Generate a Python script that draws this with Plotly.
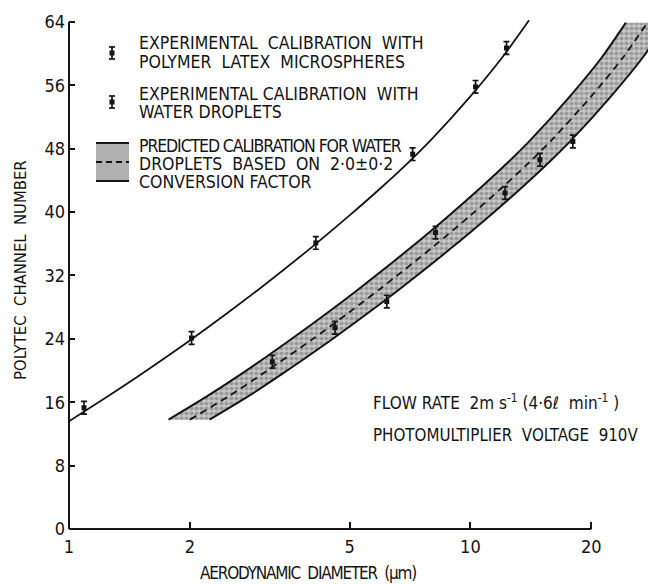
import math
import plotly.graph_objects as go

# ---------------- data ----------------
latex_x = [1.09, 2.02, 4.12, 7.18, 10.3, 12.3]
latex_y = [15.3, 24.1, 36.1, 47.3, 55.8, 60.7]
latex_err = [0.8, 0.8, 0.8, 0.8, 0.8, 0.8]

water_x = [3.21, 4.6, 6.19, 8.19, 12.2, 14.9, 18.0]
water_y = [21.1, 25.4, 28.7, 37.4, 42.4, 46.6, 48.9]
water_err = [0.8, 0.8, 0.8, 0.8, 0.8, 0.8, 0.8]

fit_x = [1.0, 1.25, 1.5, 2.0, 2.5, 3.0, 4.0, 5.0, 6.0, 7.0, 8.0, 10.0, 12.0, 14.0]
fit_y = [13.6, 16.76, 19.41, 23.79, 27.38, 30.42, 35.45, 39.57, 43.09, 46.24, 49.17, 54.6, 59.5, 64.2]

band_y = [13.8, 16.76, 19.41, 23.79, 27.38, 30.42, 35.45, 39.57, 43.09, 46.24, 49.17, 54.6, 59.5, 63.9]
band_upper_x = [1.77, 2.21, 2.66, 3.54, 4.43, 5.31, 7.08, 8.85, 10.62, 12.39, 14.16, 17.7, 21.24, 24.4]
band_mid_x = [2.00, 2.50, 3.00, 4.00, 5.00, 6.00, 8.00, 10.0, 12.0, 14.0, 16.0, 20.0, 24.0, 27.6]
band_lower_x = [2.24, 2.80, 3.36, 4.48, 5.60, 6.72, 8.96, 11.2, 13.44, 15.68, 17.92, 22.4, 26.88, 30.8]

y_ticks = [0, 8, 16, 24, 32, 40, 48, 56, 64]
x_ticks = [1, 2, 5, 10, 20]
x_ticktext = ["1", "2", "5", "10", "20"]

# ---------------- layout geometry ----------------
W, H = 650, 584
ML, MR, MT, MB = 69, 2, 6, 55
PW, PH = W - ML - MR, H - MT - MB
X_MAX = 27.7
Y_MAX = 66
FONT = "DejaVu Sans Condensed, Liberation Sans Narrow, DejaVu Sans, sans-serif"
INK = "#141414"


def px_x(px):
    return (px - ML) / PW


def px_y(py):
    return (MT + PH - py) / PH


def spaced(txt, ls):
    return '<span style="letter-spacing:%spx">%s</span>' % (ls, txt) if ls else txt


fig = go.Figure()

# band fill
fig.add_trace(go.Scatter(
    x=band_upper_x + band_lower_x[::-1],
    y=band_y + band_y[::-1],
    mode="lines", fill="toself",
    line=dict(width=0, color="rgba(0,0,0,0)"),
    fillcolor="#b4b4b4",
    fillpattern=dict(shape=".", fgcolor="#6e6e6e", bgcolor="#c8c8c8", size=5, solidity=0.55),
    hoverinfo="skip", showlegend=False))

for bx, dash in ((band_upper_x, "solid"), (band_lower_x, "solid"), (band_mid_x, "7px,5px")):
    fig.add_trace(go.Scatter(
        x=bx, y=band_y, mode="lines",
        line=dict(color=INK, width=2 if dash == "solid" else 1.8, dash=dash, shape="spline", smoothing=0.8),
        showlegend=False, hoverinfo="skip"))

# latex calibration curve
fig.add_trace(go.Scatter(
    x=fit_x, y=fit_y, mode="lines",
    line=dict(color=INK, width=1.8, shape="spline", smoothing=0.8),
    showlegend=False, hoverinfo="skip"))

# data points
for xs, ys, es in ((latex_x, latex_y, latex_err), (water_x, water_y, water_err)):
    fig.add_trace(go.Scatter(
        x=xs, y=ys, mode="markers",
        marker=dict(symbol="square", size=5, color=INK),
        error_y=dict(type="data", array=es, visible=True, color=INK, thickness=1.7, width=3),
        showlegend=False, hoverinfo="skip"))

# ---------------- axes lines (as in the print: y to 64, x to 20) ----------------
x20 = math.log10(20) / math.log10(X_MAX)
fig.add_shape(type="line", xref="paper", yref="paper", x0=0, x1=x20, y0=0, y1=0,
              line=dict(color=INK, width=2))
fig.add_shape(type="line", xref="paper", yref="paper", x0=0, x1=0, y0=0, y1=64 / Y_MAX,
              line=dict(color=INK, width=2))

# ---------------- legend drawn by hand ----------------
def err_symbol(cx, cy):
    fig.add_shape(type="line", xref="paper", yref="paper",
                  x0=px_x(cx), x1=px_x(cx), y0=px_y(cy - 6), y1=px_y(cy + 6),
                  line=dict(color=INK, width=1.7))
    for dy in (-6, 6):
        fig.add_shape(type="line", xref="paper", yref="paper",
                      x0=px_x(cx - 3), x1=px_x(cx + 3), y0=px_y(cy + dy), y1=px_y(cy + dy),
                      line=dict(color=INK, width=1.7))
    fig.add_shape(type="rect", xref="paper", yref="paper",
                  x0=px_x(cx - 2.5), x1=px_x(cx + 2.5), y0=px_y(cy - 2.5), y1=px_y(cy + 2.5),
                  fillcolor=INK, line=dict(width=0))


err_symbol(112, 53)
err_symbol(112, 102)

fig.add_shape(type="rect", xref="paper", yref="paper",
              x0=px_x(96), x1=px_x(129), y0=px_y(143), y1=px_y(181),
              fillcolor="#b0b0b0", line=dict(width=0))
for yy, dash in ((143, "solid"), (162, "6px,4px"), (181, "solid")):
    fig.add_shape(type="line", xref="paper", yref="paper",
                  x0=px_x(96), x1=px_x(129), y0=px_y(yy), y1=px_y(yy),
                  line=dict(color=INK, width=2, dash=dash))

# (y pixel, text, letter spacing in px)
legend_lines = [
    (43, "EXPERIMENTAL  CALIBRATION  WITH", 0),
    (62, "POLYMER  LATEX  MICROSPHERES", 0),
    (94, "EXPERIMENTAL CALIBRATION  WITH", 0),
    (112, "WATER DROPLETS", 0),
    (146, "PREDICTED CALIBRATION FOR WATER", -1.1),
    (164, "DROPLETS  BASED  ON  2·0±0·2", 0),
    (182, "CONVERSION FACTOR", 0),
]
for py, txt, ls in legend_lines:
    fig.add_annotation(xref="paper", yref="paper", x=px_x(137), y=px_y(py),
                       xanchor="left", yanchor="middle", showarrow=False, text=spaced(txt, ls),
                       font=dict(family=FONT, size=17.5, color=INK))

fig.add_annotation(xref="paper", yref="paper", x=px_x(371), y=px_y(402),
                   xanchor="left", yanchor="middle", showarrow=False,
                   text="FLOW RATE  2m s<sup>-1</sup> (4·6ℓ  min<sup>-1</sup> )",
                   font=dict(family=FONT, size=17, color=INK))
fig.add_annotation(xref="paper", yref="paper", x=px_x(371), y=px_y(435),
                   xanchor="left", yanchor="middle", showarrow=False,
                   text="PHOTOMULTIPLIER  VOLTAGE  910V",
                   font=dict(family=FONT, size=16.8, color=INK))

# axis titles
fig.add_annotation(xref="paper", yref="paper", x=px_x(308), y=px_y(573),
                   xanchor="center", yanchor="middle", showarrow=False,
                   text=spaced("AERODYNAMIC  DIAMETER  (μm)", -1.2),
                   font=dict(family=FONT, size=17, color=INK))
fig.add_annotation(xref="paper", yref="paper", x=px_x(20), y=px_y(270),
                   xanchor="center", yanchor="middle", showarrow=False, textangle=-90,
                   text="POLYTEC  CHANNEL  NUMBER",
                   font=dict(family=FONT, size=16.5, color=INK))

fig.update_layout(
    width=W, height=H,
    margin=dict(l=ML, r=MR, t=MT, b=MB),
    paper_bgcolor="white", plot_bgcolor="white",
    showlegend=False,
    xaxis=dict(type="log", range=[0, math.log10(X_MAX)], tickvals=x_ticks, ticktext=x_ticktext,
               ticks="inside", ticklen=7, tickwidth=1.6, tickcolor=INK,
               showgrid=False, zeroline=False, showline=False,
               tickfont=dict(family=FONT, size=18, color=INK), ticklabelstandoff=5),
    yaxis=dict(range=[0, Y_MAX], tickvals=y_ticks,
               ticks="inside", ticklen=6, tickwidth=1.6, tickcolor=INK,
               showgrid=False, zeroline=False, showline=False,
               tickfont=dict(family=FONT, size=18, color=INK), ticklabelstandoff=3),
)

fig.write_html("out.html")
